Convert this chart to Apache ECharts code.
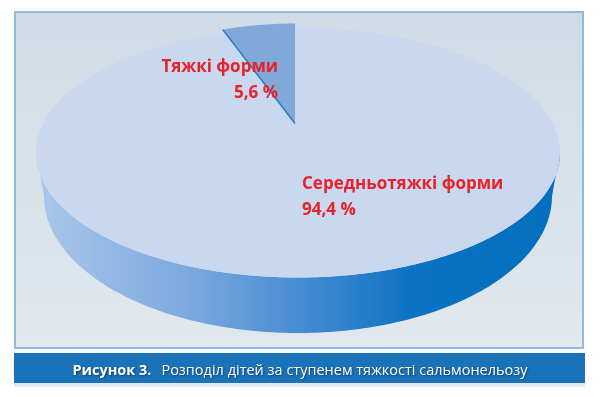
<!DOCTYPE html>
<html>
<head>
    <meta charset="utf-8">
    <title>Рисунок 3</title>
    <script src="https://cdn.jsdelivr.net/npm/echarts@6/dist/echarts.min.js"></script>
    <style>
        html, body { margin: 0; padding: 0; background: #fff; }
    </style>
</head>
<body>
    <div id="chart" style="width:600px; height:397px"></div>

    <script>
        // дані
        const categories = ['Тяжкі форми', 'Середньотяжкі форми'];
        const shares = [5.6, 94.4];
        const valueLabels = ['5,6 %', '94,4 %'];
        const caption = 'Розподіл дітей за ступенем тяжкості сальмонельозу';

        // геометрія "об'ємного" круга
        const topFace = { x: 298, y: 152.5, rx: 262, ry: 125 };
        const bottomFace = { x: 298, y: 196, rx: 254, ry: 137 };
        const explode = { dx: -3, dy: -29, scale: 0.8 };
        const labelPos = [[278, 80, 'right'], [302, 197, 'left']];

        function pt(e, deg, k) {
            k = k || 1;
            let a = deg * Math.PI / 180;
            return [e.x + e.rx * k * Math.cos(a), e.y - e.ry * k * Math.sin(a)];
        }
        function arc(e, a0, a1, k) {
            let pts = [];
            let n = Math.max(2, Math.ceil(Math.abs(a1 - a0)));
            for (let i = 0; i <= n; i++) pts.push(pt(e, a0 + (a1 - a0) * i / n, k));
            return pts;
        }

        // кути секторів: від верху проти годинникової стрілки
        const total = shares.reduce((s, v) => s + v, 0);
        let angles = [];
        let acc = 90;
        shares.forEach(v => {
            let span = v / total * 360;
            angles.push([acc, acc + span]);
            acc += span;
        });

        function renderItem(params, api) {
            let i = params.dataIndex;
            let a0 = angles[i][0], a1 = angles[i][1];
            let children = [];
            let lp = labelPos[i];
            let label = {
                type: 'text', z2: 20,
                style: {
                    text: categories[i] + '\n' + valueLabels[i],
                    x: lp[0], y: lp[1], align: lp[2], verticalAlign: 'middle',
                    fill: '#e8222a', fontSize: 17, fontWeight: 'bold',
                    fontFamily: 'Open Sans', lineHeight: 26
                }
            };

            if (i === 0) {
                // винесений сектор
                let c = { x: topFace.x + explode.dx, y: topFace.y + explode.dy, rx: topFace.rx, ry: topFace.ry };
                let pts = [[c.x, c.y]].concat(arc(c, a0, a1, explode.scale));
                children.push({
                    type: 'polygon', z2: 10,
                    shape: { points: pts },
                    style: { fill: '#80a9da' }
                });
                children.push({
                    type: 'polyline', z2: 11,
                    shape: { points: [[c.x, c.y], pt(c, a1, explode.scale)] },
                    style: { stroke: '#2a76c3', lineWidth: 1.5, fill: null }
                });
            } else {
                // бокова стінка (видима передня частина)
                let s0 = Math.max(a0, 180), s1 = Math.min(a1, 360);
                let side = arc(topFace, s0, s1).concat(arc(bottomFace, s1, s0));
                children.push({
                    type: 'polygon', z2: 1,
                    shape: { points: side },
                    style: {
                        fill: new echarts.graphic.LinearGradient(0, 0, 1, 0, [
                            { offset: 0, color: '#abc7eb' },
                            { offset: 0.3, color: '#7aa8de' },
                            { offset: 0.55, color: '#3a86cf' },
                            { offset: 0.72, color: '#0a73c3' },
                            { offset: 1, color: '#046fbe' }
                        ])
                    }
                });
                // верхня грань
                children.push({
                    type: 'polygon', z2: 2,
                    shape: { points: arc(topFace, a0, a1) },
                    style: { fill: '#c9d8ef' }
                });
            }
            children.push(label);
            return { type: 'group', children: children };
        }

        let chart = echarts.init(document.getElementById('chart'));
        let shadow = { textShadowColor: 'rgba(0,0,0,0.45)', textShadowBlur: 2, textShadowOffsetX: 1, textShadowOffsetY: 1 };
        let option = {
            animation: false,
            backgroundColor: '#ffffff',
            title: {
                text: '{b|Рисунок 3.}  {n|' + caption + '}',
                left: 'center',
                top: 357,
                textStyle: {
                    fontWeight: 'normal',
                    rich: {
                        b: Object.assign({ color: '#fff', fontSize: 14.5, fontWeight: 'bold', fontFamily: 'Open Sans' }, shadow),
                        n: Object.assign({ color: '#fff', fontSize: 14.5, fontWeight: 'normal', fontFamily: 'Open Sans' }, shadow)
                    }
                }
            },
            graphic: [
                {
                    type: 'rect', z: -10,
                    shape: { x: 15, y: 12, width: 568, height: 336 },
                    style: {
                        fill: new echarts.graphic.LinearGradient(0, 0, 0, 1, [
                            { offset: 0, color: '#cfdce5' },
                            { offset: 1, color: '#e1e8ee' }
                        ]),
                        stroke: '#8fbbe0', lineWidth: 2
                    }
                },
                {
                    type: 'rect', z: -10,
                    shape: { x: 14, y: 383, width: 571, height: 4 },
                    style: { fill: '#e2eaf1' }
                },
                {
                    type: 'rect', z: -10,
                    shape: { x: 14, y: 353, width: 571, height: 30 },
                    style: { fill: '#1a72b9' }
                }
            ],
            series: [{
                type: 'custom',
                coordinateSystem: 'none',
                renderItem: renderItem,
                data: shares.map((v, i) => [v, i])
            }]
        };
        chart.setOption(option);
    </script>
</body>
</html>
